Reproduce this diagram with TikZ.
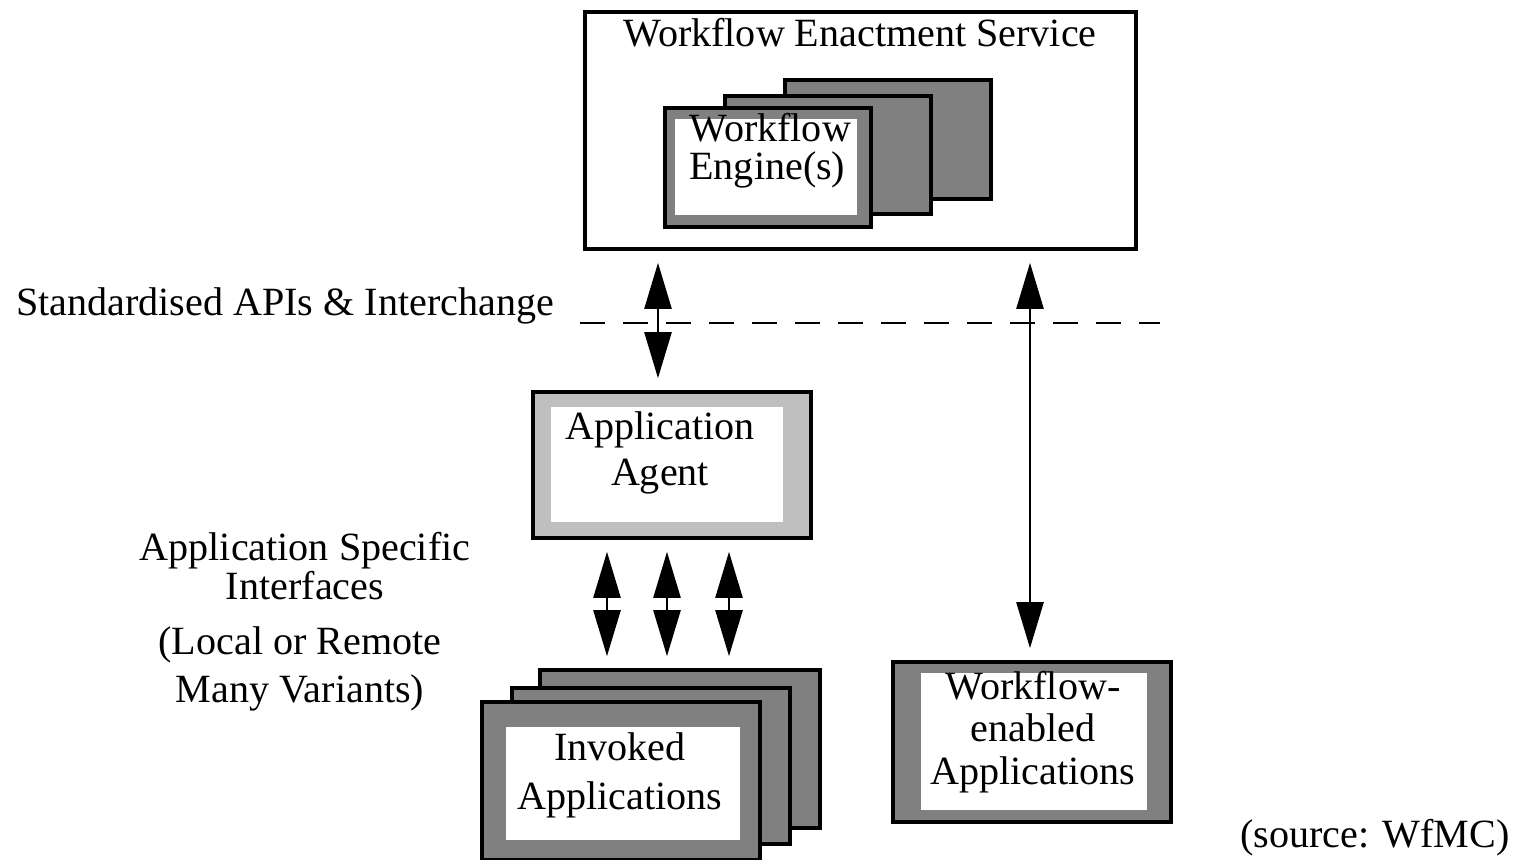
\documentclass[tikz,border=0pt]{standalone}
\usepackage{fontspec}
\setmainfont{Liberation Serif}
\usetikzlibrary{arrows.meta}

\tikzset{
  frame/.style={draw,line width=1pt,inner sep=0pt,fill=#1},
  pane/.style={fill=white,inner sep=0pt},
  flow/.style={{Triangle[length=4.6mm,width=2.7mm]}-{Triangle[length=4.6mm,width=2.7mm]},
    line width=.7pt,shorten <=1.2mm,shorten >=1.2mm},
}

\begin{document}
\begin{tikzpicture}[x=0.01cm,y=-0.01cm,font=\fontsize{11.4}{13.5}\selectfont]

      \useasboundingbox (0,0) rectangle (1517,860);

      % workflow enactment service with its engines
      \node[frame=white,minimum width=5.51cm,minimum height=2.37cm] (wes) at (860.5,130.5) {};
      \node (westxt) at (860,33) {Workflow Enactment Service};
      \node[frame=black!50,minimum width=2.06cm,minimum height=1.19cm] (eng3) at (888,139.5) {};
      \node[frame=black!50,minimum width=2.06cm,minimum height=1.18cm] (eng2) at (828,155) {};
      \node[frame=black!50,minimum width=2.06cm,minimum height=1.19cm] (eng1) at (768,167.5) {};
      \node[pane,minimum width=1.82cm,minimum height=.96cm] (engin) at (766,167) {};
      \node[anchor=west,align=left,font=\fontsize{11.4}{10.8}\selectfont] (engtxt) at (677,151) {Workflow\\Engine(s)};

      % application agent
      \node[frame=black!25,minimum width=2.78cm,minimum height=1.46cm] (agent) at (672,465) {};
      \node[pane,minimum width=2.32cm,minimum height=1.15cm] (agin) at (667,464.5) {};
      \node[align=center,font=\fontsize{11.4}{13}\selectfont] (agtxt) at (660,453) {Application\\Agent};

      % invoked applications
      \node[frame=black!50,minimum width=2.8cm,minimum height=1.58cm] (inv3) at (680,749) {};
      \node[frame=black!50,minimum width=2.78cm,minimum height=1.56cm] (inv2) at (651,766) {};
      \node[frame=black!50,minimum width=2.78cm,minimum height=1.58cm] (inv1) at (621,781) {};
      \node[pane,minimum width=2.34cm,minimum height=1.13cm] (invin) at (623,783.5) {};
      \node[align=center,font=\fontsize{11.4}{14}\selectfont] (invtxt) at (620,775) {Invoked\\Applications};

      % workflow-enabled applications
      \node[frame=black!50,minimum width=2.78cm,minimum height=1.6cm] (wea) at (1032,742) {};
      \node[pane,minimum width=2.26cm,minimum height=1.37cm] (weain) at (1034,741.5) {};
      \node[align=center,font=\fontsize{11.4}{12}\selectfont] (weatxt) at (1033,732) {Workflow-\\enabled\\Applications};

      % labels on the left
      \node (apis) at (285,306) {Standardised APIs \& Interchange};
      \node[align=center,font=\fontsize{11.4}{11}\selectfont] (asi) at (305,566) {Application Specific\\Interfaces};
      \node[align=center,font=\fontsize{11.4}{13.5}\selectfont] (local) at (300,669) {(Local or Remote\\Many Variants)};
      \node (src) at (1375,838) {(source: WfMC)};

      % interchange line
      \coordinate (dashl) at (580,323);
      \coordinate (dashr) at (1160,323);
      \draw[line width=.7pt,dash pattern=on 2.5mm off 1.8mm] (dashl) -- (dashr);

      % connectors
      \coordinate (api1) at (658,0);
      \coordinate (api2) at (1030,0);
      \coordinate (asi1) at (607,0);
      \coordinate (asi2) at (667,0);
      \coordinate (asi3) at (729,0);

      \begin{scope}[every edge/.style={draw,flow}]
        \path (api1 |- wes.south) edge (api1 |- agent.north);
        \path (api2 |- wes.south) edge (api2 |- wea.north);
        \path (asi1 |- agent.south) edge (asi1 |- inv3.north);
        \path (asi2 |- agent.south) edge (asi2 |- inv3.north);
        \path (asi3 |- agent.south) edge (asi3 |- inv3.north);
      \end{scope}

    \end{tikzpicture}
\end{document}
